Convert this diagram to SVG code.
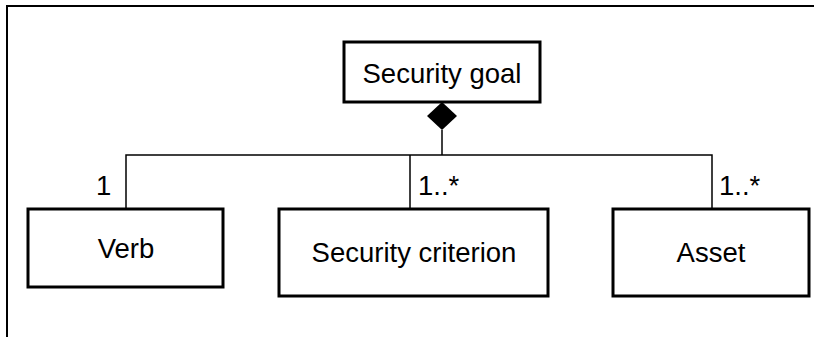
<svg xmlns="http://www.w3.org/2000/svg" width="814" height="337" viewBox="0 0 814 337">
<style>
.box{fill:#fff;stroke:#000;stroke-width:3}
.conn{fill:none;stroke:#000;stroke-width:1.5}
.t{font-family:"Liberation Sans",Arial,sans-serif;font-size:27.5px;fill:#000}
.m{text-anchor:middle}
</style>
<rect width="814" height="337" fill="#fff"/>
<path d="M7,337 V6 H814" fill="none" stroke="#000" stroke-width="2"/>
<g id="connectors">
<path class="conn" d="M442,130 V155"/>
<path class="conn" d="M126,209 V155 H712 V209"/>
<path class="conn" d="M410,155 V209"/>
<polygon points="442,102 457,116 442,130 427,116" fill="#000"/>
<text class="t" x="96" y="195">1</text>
<text class="t" x="418" y="195">1..*</text>
<text class="t" x="719" y="195">1..*</text>
</g>
<g id="security-goal">
<rect class="box" x="344" y="42" width="196" height="60"/>
<text class="t m" x="442" y="83">Security goal</text>
</g>
<g id="verb">
<rect class="box" x="28" y="209" width="195" height="78"/>
<text class="t m" x="126" y="258">Verb</text>
</g>
<g id="security-criterion">
<rect class="box" x="279" y="209" width="269" height="87"/>
<text class="t m" x="414" y="262">Security criterion</text>
</g>
<g id="asset">
<rect class="box" x="613" y="209" width="196" height="87"/>
<text class="t m" x="711" y="262">Asset</text>
</g>
</svg>
